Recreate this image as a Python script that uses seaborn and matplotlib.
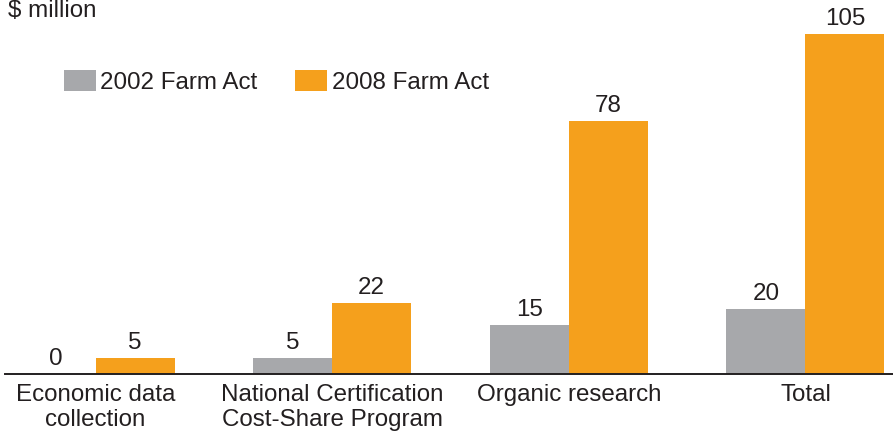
import numpy as np
import pandas as pd
import matplotlib
matplotlib.use("Agg")
import matplotlib.pyplot as plt
import seaborn as sns

# ── data ─────────────────────────────────────────────────────────────
programs = ["Economic data\ncollection", "National Certification\nCost-Share Program",
            "Organic research", "Total"]
acts = ["2002 Farm Act", "2008 Farm Act"]
funding_2002 = [0, 5, 15, 20]
funding_2008 = [5, 22, 78, 105]

GRAY = "#A7A8AB"
ORANGE = "#F5A01C"
INK = "#231F20"
FS = 17.4

df = pd.DataFrame({
    "program": programs * 2,
    "act": [acts[0]] * len(programs) + [acts[1]] * len(programs),
    "value": funding_2002 + funding_2008,
})

sns.set_theme(style="white")
plt.rcParams["font.family"] = ["Liberation Sans", "DejaVu Sans"]
plt.rcParams["text.color"] = INK

fig = plt.figure(figsize=(8.93, 4.32), dpi=100)
ax = fig.add_axes([5 / 893, 1 - 374 / 432, 888 / 893, 374 / 432])

sns.barplot(data=df, x="program", y="value", hue="act", order=programs,
            hue_order=acts, palette=[GRAY, ORANGE], saturation=1,
            width=0.668, gap=0, linewidth=0, ax=ax)

for cont in ax.containers:
    ax.bar_label(cont, fmt="%d", padding=3, fontsize=FS, color=INK)

ax.set_ylim(0, 115.4)
ax.set_xlim(-0.383, 3.370)
ax.set_xlabel("")
ax.set_ylabel("")
ax.set_yticks([])
for s in ["top", "left", "right"]:
    ax.spines[s].set_visible(False)
ax.spines["bottom"].set_color(INK)
ax.spines["bottom"].set_linewidth(1.4)
ax.tick_params(axis="x", length=0, pad=7, labelsize=FS, labelcolor=INK)
for lbl in ax.get_xticklabels():
    lbl.set_linespacing(1.2)

sns.move_legend(ax, "center left", bbox_to_anchor=(64 / 893, 1 - 82 / 432),
                bbox_transform=fig.transFigure, ncol=2, frameon=False, title=None,
                fontsize=FS, handlelength=1.33, handleheight=0.95,
                handletextpad=0.18, columnspacing=1.55, borderpad=0, borderaxespad=0)

fig.text(8 / 893, 1 - 17 / 432, "$ million", fontsize=FS, color=INK,
         ha="left", va="baseline")

fig.savefig("out.png", dpi=100)
